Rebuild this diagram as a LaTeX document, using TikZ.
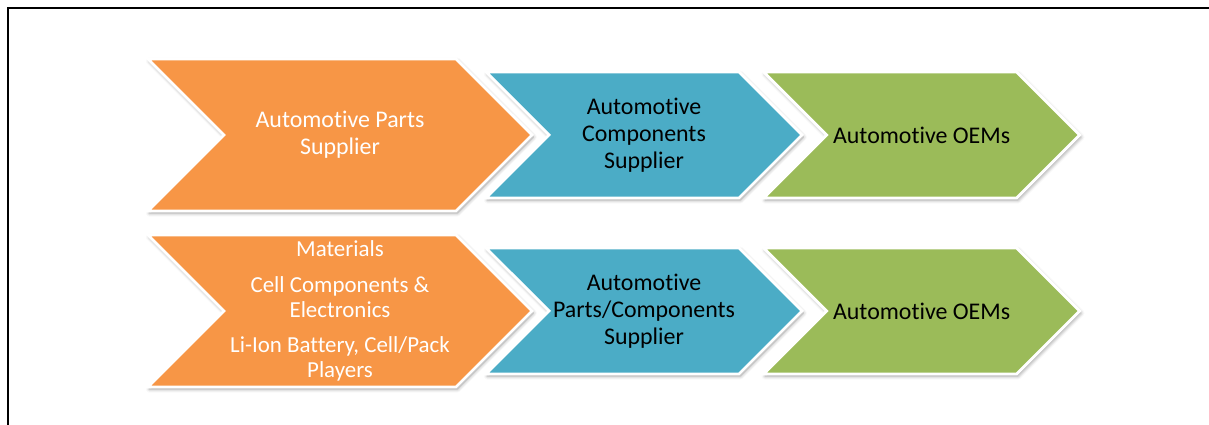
\documentclass[tikz,border=0pt]{standalone}
\usepackage{fontspec}
\setmainfont{Carlito}[Ligatures=NoCommon]
\usepackage{tikz}
\usetikzlibrary{shapes.symbols, shadows.blur}
\usepackage{xcolor}
\definecolor{laranjaC}{HTML}{F79646}
\definecolor{azulC}{HTML}{4BACC6}
\definecolor{verdeC}{HTML}{9BBB59}

\begin{document}
\begin{tikzpicture}[
    seta/.style={
        signal,
        signal to=east,
        signal from=west,
        signal pointer angle=90,
        draw=white,
        line width=2pt,
        align=center,
        inner sep=0pt,
        blur shadow={shadow xshift=1pt, shadow yshift=-1.5pt,
                     shadow blur radius=2.5pt, shadow opacity=40}
    },
    grande/.style={
        seta,
        minimum width=9.6cm,
        minimum height=3.8cm,
        fill=laranjaC,
        text=white
    },
    pequena/.style={
        seta,
        minimum width=7.9cm,
        minimum height=3.15cm,
        text=black
    },
    texto/.style={font=\fontsize{17}{19.2}\selectfont},
    textoMenor/.style={font=\fontsize{16.3}{17.8}\selectfont}
]

\useasboundingbox (0,0) rectangle (30.225,10.625);
\draw[line width=1.4pt, line join=miter] (0.2,-0.5) -- (0.2,10.425) -- (30.8,10.425);

\node[grande, texto] (parts) at (8.5,7.25)
{Automotive Parts\\
Supplier};

\node[pequena, texto, fill=azulC] (components) at (16.1,7.25)
{Automotive\\
Components\\
Supplier};

\node[pequena, texto, fill=verdeC] (oems) at (23.04,7.25)
{Automotive OEMs};

\node[grande, textoMenor] (battery) at (8.5,2.85)
{Materials\\[7.5pt]
Cell Components \&\\
Electronics\\[7.5pt]
Li-Ion Battery, Cell/Pack\\
Players};

\node[pequena, texto, fill=azulC] (partscomp) at (16.1,2.85)
{Automotive\\
Parts/Components\\
Supplier};

\node[pequena, texto, fill=verdeC] (oemsb) at (23.04,2.85)
{Automotive OEMs};

\end{tikzpicture}
\end{document}
